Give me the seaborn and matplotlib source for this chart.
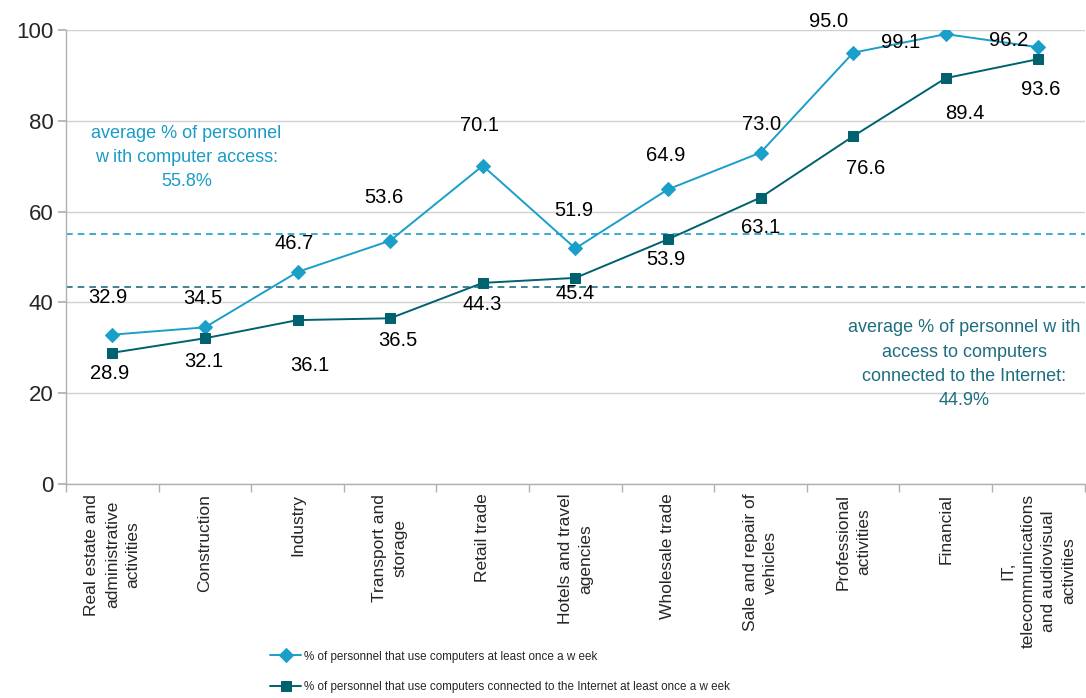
import matplotlib
matplotlib.use("Agg")
import matplotlib.pyplot as plt
import seaborn as sns
import pandas as pd
import numpy as np

categories = ["Real estate and\nadministrative\nactivities", "Construction", "Industry",
              "Transport and\nstorage", "Retail trade", "Hotels and travel\nagencies",
              "Wholesale trade", "Sale and repair of\nvehicles", "Professional\nactivities",
              "Financial", "IT,\ntelecommunications\nand audiovisual\nactivities"]
computer_use = [32.9, 34.5, 46.7, 53.6, 70.1, 51.9, 64.9, 73.0, 95.0, 99.1, 96.2]
internet_use = [28.9, 32.1, 36.1, 36.5, 44.3, 45.4, 53.9, 63.1, 76.6, 89.4, 93.6]
avg_computer_line = 55.0
avg_internet_line = 43.3
series_names = ["% of personnel that use computers at least once a w eek",
                "% of personnel that use computers connected to the Internet at least once a w eek"]

# label offsets in pixels (layout only)
off_c = [(-5, 37), (-2, 29), (-3, 28), (-6, 43), (-3, 40), (-2, 38), (-2, 34), (1, 28),
         (-25, 31), (-45, -8), (-30, 7)]
off_i = [(-3, -21), (-1, -23), (12, -45), (8, -22), (-1, -22), (0, -16), (-2, -20), (0, -30),
         (12, -32), (19, -35), (2, -30)]

light = "#1A9FC9"
dark = "#00616F"

sns.set_theme(style="white")
plt.rcParams["font.family"] = ["Liberation Sans", "DejaVu Sans"]

fig = plt.figure(figsize=(10.86, 6.98), dpi=100)
ax = fig.add_axes([0.0608, 0.3066, 0.938, 0.6504])

x = np.arange(len(categories))
df = pd.DataFrame({"x": np.concatenate([x, x]),
                   "y": computer_use + internet_use,
                   "s": [series_names[0]] * len(x) + [series_names[1]] * len(x)})

sns.lineplot(data=df[df.s == series_names[0]], x="x", y="y", ax=ax, color=light, lw=1.4,
             marker="D", markersize=7, markeredgecolor=light, label=series_names[0], sort=False)
sns.lineplot(data=df[df.s == series_names[1]], x="x", y="y", ax=ax, color=dark, lw=1.4,
             marker="s", markersize=7.5, markeredgecolor=dark, label=series_names[1], sort=False)

ax.axhline(avg_computer_line, color=light, ls=(0, (4, 3)), lw=1.2, zorder=1)
ax.axhline(avg_internet_line, color="#1E6E80", ls=(0, (4, 3)), lw=1.2, zorder=1)

for i, v in enumerate(computer_use):
    ax.annotate(f"{v:.1f}", (i, v), xytext=off_c[i], textcoords="offset pixels",
                ha="center", va="center", fontsize=14.5, color="black")
for i, v in enumerate(internet_use):
    ax.annotate(f"{v:.1f}", (i, v), xytext=off_i[i], textcoords="offset pixels",
                ha="center", va="center", fontsize=14.5, color="black")

ax.text(0.8, 71.9, "average % of personnel\nw ith computer access:\n55.8%", ha="center",
        va="center", fontsize=13, color="#1A9CC6", linespacing=1.55)
ax.text(9.2, 26.4, "average % of personnel w ith\naccess to computers\nconnected to the Internet:\n44.9%",
        ha="center", va="center", fontsize=13, color="#1E6E80", linespacing=1.55)

ax.set_xlim(-0.5, len(categories) - 0.5)
ax.set_ylim(0, 100)
ax.set_yticks([0, 20, 40, 60, 80, 100])
ax.yaxis.grid(True, color="#D0D0D0", lw=1)
ax.set_axisbelow(True)
ax.set_xticks(x)
ax.set_xticklabels(categories, rotation=90, fontsize=12.5, va="top", ha="center",
                   multialignment="center", linespacing=1.45)
ax.set_xticks(np.arange(-0.5, len(categories), 1), minor=True)
ax.tick_params(axis="x", which="major", length=0, pad=7)
ax.tick_params(axis="x", which="minor", length=6, color="#B0B0B0", bottom=True)
ax.tick_params(axis="y", length=6, color="#B0B0B0", left=True, labelsize=16, pad=3)
ax.set_xlabel("")
ax.set_ylabel("")
for s in ["top", "right"]:
    ax.spines[s].set_visible(False)
for s in ["left", "bottom"]:
    ax.spines[s].set_color("#B0B0B0")
    ax.spines[s].set_linewidth(1)

ax.legend(loc="upper left", bbox_to_anchor=(0.249, 0.068), bbox_transform=fig.transFigure,
          frameon=False, fontsize=8.4, handlelength=2.6, labelspacing=1.55, handletextpad=0.3,
          borderaxespad=0, borderpad=0)

fig.savefig("out.png", dpi=100)
